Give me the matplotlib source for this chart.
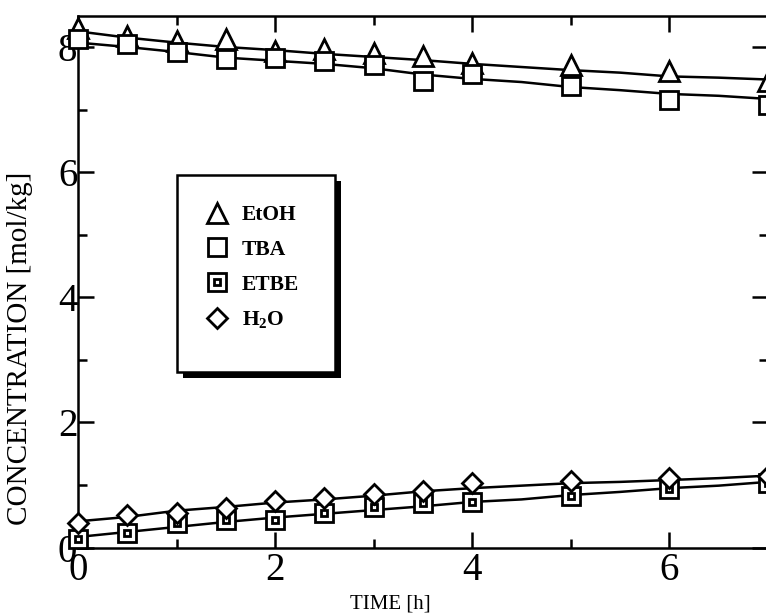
#!/usr/bin/env python3
"""
Concentration profiles (EtOH, TBA, ETBE, H2O) versus reaction time,
experimental points plus the fitted model curves.
"""
import matplotlib
matplotlib.use("Agg")
import matplotlib.pyplot as plt
from matplotlib.patches import Rectangle
from matplotlib.legend_handler import HandlerTuple

SALIDA = "out.png"

# experimental points
tiempo = [0, 0.5, 1, 1.5, 2, 2.5, 3, 3.5, 4, 5, 6, 7]
etoh = [8.30, 8.17, 8.09, 8.13, 7.94, 7.96, 7.91, 7.86, 7.75, 7.72, 7.62, 7.45]
tba = [8.13, 8.05, 7.92, 7.81, 7.83, 7.78, 7.71, 7.45, 7.57, 7.37, 7.16, 7.08]
etbe = [0.13, 0.24, 0.40, 0.44, 0.44, 0.56, 0.65, 0.72, 0.73, 0.83, 0.94, 1.03]
h2o = [0.39, 0.52, 0.56, 0.63, 0.75, 0.79, 0.86, 0.91, 1.03, 1.07, 1.11, 1.15]

# model curves
tiempo_modelo = [0, 0.5, 1, 1.5, 2, 2.5, 3, 3.5, 4, 4.5, 5, 5.5, 6, 6.5, 7]
etoh_modelo = [8.25, 8.15, 8.07, 8.00, 7.95, 7.89, 7.84, 7.79, 7.73, 7.68,
               7.63, 7.59, 7.53, 7.51, 7.48]
tba_modelo = [8.07, 8.00, 7.92, 7.83, 7.78, 7.73, 7.66, 7.56, 7.49, 7.44,
              7.36, 7.31, 7.25, 7.22, 7.17]
h2o_modelo = [0.42, 0.49, 0.59, 0.65, 0.72, 0.77, 0.83, 0.90, 0.95, 0.99,
              1.03, 1.05, 1.08, 1.11, 1.15]
etbe_modelo = [0.17, 0.25, 0.33, 0.41, 0.48, 0.54, 0.60, 0.66, 0.73, 0.77,
               0.84, 0.89, 0.95, 0.99, 1.05]

xticks = [0, 2, 4, 6]
yticks = [0, 2, 4, 6, 8]

plt.rcParams["font.family"] = ["Liberation Serif", "DejaVu Serif"]
plt.rcParams["mathtext.fontset"] = "custom"
plt.rcParams["mathtext.rm"] = "Liberation Serif"
plt.rcParams["mathtext.bf"] = "Liberation Serif:bold"

LW = 1.8
MEW = 2.0


def marcador(ax, x, y, m, ms, z):
    return ax.plot(x, y, linestyle="none", marker=m, ms=ms, mfc="white",
                   mec="black", mew=MEW, zorder=z, clip_on=False)[0]


def main():
    fig = plt.figure(figsize=(7.66, 6.15), dpi=100)
    ax = fig.add_axes([0.10183, 0.10959, 0.90078, 0.86488])

    for curva in (etoh_modelo, tba_modelo, h2o_modelo, etbe_modelo):
        ax.plot(tiempo_modelo, curva, "-", color="black", lw=LW, zorder=4,
                clip_on=False)

    h_etoh = marcador(ax, tiempo, etoh, "^", 15, 5)
    h_tba = marcador(ax, tiempo, tba, "s", 13.5, 6)
    h_etbe_ext = marcador(ax, tiempo, etbe, "s", 13.5, 5)
    h_etbe_int = marcador(ax, tiempo, etbe, "s", 4.5, 5.1)
    h_h2o = marcador(ax, tiempo, h2o, "D", 10, 6)

    ax.set_xlim(0, 7)
    ax.set_ylim(0, 8.5)
    ax.set_xticks(xticks)
    ax.set_yticks(yticks)
    ax.set_xticks([1, 3, 5, 7], minor=True)
    ax.set_yticks([1, 3, 5, 7], minor=True)
    ax.tick_params(which="both", direction="in", top=True, right=True,
                   width=LW, labelsize=28)
    ax.tick_params(which="major", length=11.5)
    ax.tick_params(which="minor", length=6.5)
    ax.tick_params(axis="x", which="major", pad=3)
    ax.tick_params(axis="y", which="major", pad=0.5)
    for s in ax.spines.values():
        s.set_linewidth(LW)

    ax.set_xlabel("TIME [h]", fontsize=15)
    ax.xaxis.set_label_coords(0.452, -0.088)
    ax.set_ylabel("CONCENTRATION [mol/kg]", fontsize=21, va="center")
    ax.yaxis.set_label_coords(-0.084, 0.375)

    # legend box with a solid offset shadow
    x0, y0, x1, y1 = 0.1435, 0.330, 0.3725, 0.7005
    dx, dy = 6 / 690, -6 / 531.9
    ax.add_patch(Rectangle((x0 + dx, y0 + dy), x1 - x0, y1 - y0,
                           transform=ax.transAxes, facecolor="black",
                           edgecolor="black", lw=0, zorder=8, clip_on=False))
    ax.add_patch(Rectangle((x0, y0), x1 - x0, y1 - y0,
                           transform=ax.transAxes, facecolor="white",
                           edgecolor="black", lw=LW, zorder=9, clip_on=False))

    handles = [h_etoh, h_tba, (h_etbe_ext, h_etbe_int), h_h2o]
    etiquetas = ["EtOH", "TBA", "ETBE", r"$\mathbf{H_2O}$"]
    leg = ax.legend(handles, etiquetas, loc="upper left",
                    bbox_to_anchor=(0.181, 0.644), frameon=False,
                    borderpad=0, borderaxespad=0, numpoints=1,
                    handlelength=1.35, handletextpad=0.45, labelspacing=0.68,
                    prop={"family": "Liberation Serif", "weight": "bold",
                          "size": 15.5},
                    handler_map={tuple: HandlerTuple(ndivide=1, pad=0)})
    leg.set_zorder(10)

    fig.savefig(SALIDA, dpi=100)
    plt.close(fig)


if __name__ == "__main__":
    main()
